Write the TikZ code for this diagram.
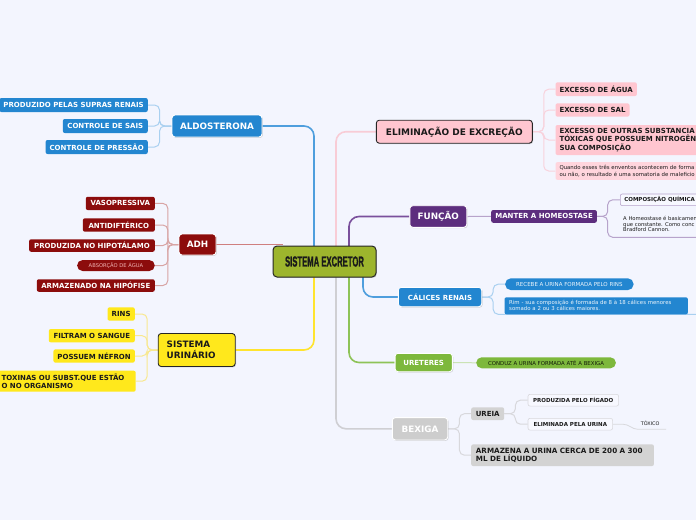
\documentclass[tikz,border=0pt]{standalone}
\usepackage{fontspec}
\setmainfont{DejaVu Sans}
\newfontfamily\titlefont[FakeBold=1.6]{Liberation Sans Bold}
\usetikzlibrary{shadows,calc}
\pgfdeclarelayer{back}
\pgfdeclarelayer{lines}
\pgfsetlayers{back,lines,main}
\definecolor{bgc}{HTML}{F3F5FE}
\definecolor{cOlive}{HTML}{9DB52D}
\definecolor{cBlue}{HTML}{2386D0}
\definecolor{cRed}{HTML}{8C0C0C}
\definecolor{cRedText}{HTML}{F0B4B4}
\definecolor{cYel}{HTML}{FFE81C}
\definecolor{cPink}{HTML}{FFC6D0}
\definecolor{cPinkL}{HTML}{FFD5DD}
\definecolor{cPur}{HTML}{5D2E7E}
\definecolor{cGreen}{HTML}{7DB83C}
\definecolor{cGray}{HTML}{CDCDCD}
\definecolor{cGrayL}{HTML}{D3D3D3}
\definecolor{cWhiteBox}{HTML}{F7F8FF}
\definecolor{lBlueM}{HTML}{4E9EDD}
\definecolor{lBlueS}{HTML}{A9D0F0}
\definecolor{lRedM}{HTML}{CF7F7F}
\definecolor{lRedS}{HTML}{D8A4A4}
\definecolor{lYelM}{HTML}{FFE42E}
\definecolor{lYelS}{HTML}{F8E890}
\definecolor{lPinkM}{HTML}{F8CCD6}
\definecolor{lPinkS}{HTML}{F8D2DC}
\definecolor{lPurM}{HTML}{7A509C}
\definecolor{lPurS}{HTML}{B7A3CB}
\definecolor{lGreenM}{HTML}{8EC358}
\definecolor{lGreenS}{HTML}{CBE3B5}
\definecolor{lGrayM}{HTML}{CFCFD3}
\definecolor{lGrayS}{HTML}{D8D8DC}
\definecolor{txtDark}{HTML}{1A1A1A}
\tikzset{
  mline/.style={line width=1.6pt, rounded corners=10pt},
  sline/.style={line width=1pt, rounded corners=5pt},
  shad/.style={drop shadow={shadow xshift=0.9pt, shadow yshift=-0.9pt, opacity=0.3}},
  topic/.style={draw=white, line width=0.9pt, rounded corners=3pt, text=white, inner sep=0pt,
    font=\fontsize{8.8}{10}\selectfont\bfseries, shad},
  topicsm/.style={topic, font=\fontsize{7}{8}\selectfont\bfseries},
  sub/.style={rounded corners=2pt, inner xsep=4pt, inner ysep=0pt,
    font=\fontsize{7}{8.7}\selectfont\bfseries},
  subw/.style={sub, text=white},
  subk/.style={sub, text=txtDark},
  tinyb/.style={rounded corners=2pt, inner xsep=4pt, inner ysep=0pt,
    font=\fontsize{5.5}{6.5}\selectfont\bfseries, text=txtDark},
  pill/.style={rounded corners=5.5pt, inner xsep=4pt, inner ysep=0pt,
    font=\fontsize{5.5}{6}\selectfont},
  note/.style={rounded corners=2pt, inner ysep=0pt, align=left,
    font=\fontsize{5.4}{5.9}\selectfont},
}
\begin{document}
\begin{tikzpicture}[x=1pt,y=-1pt]
\begin{pgfonlayer}{back}
\fill[bgc] (0,0) rectangle (696,520);
\end{pgfonlayer}
\useasboundingbox (0,0) rectangle (696,520);

% ---------------- central topic
\node[draw=black!85, fill=cOlive, line width=1pt, rounded corners=4pt, minimum width=103pt,
  minimum height=31pt, inner sep=0pt, text=txtDark,
  font=\titlefont\fontsize{14.5}{14.5}\selectfont, shad] (cen) at (324.5,261.5)
  {\scalebox{0.53}[1]{SISTEMA EXCRETOR}};

% ---------------- ALDOSTERONA
\node[topic, fill=cBlue, minimum width=90pt, minimum height=22pt] (ald) at (217,126) {ALDOSTERONA};
\node[subw, fill=cBlue, anchor=east, minimum height=14pt] (a1) at (148,105) {PRODUZIDO PELAS SUPRAS RENAIS};
\node[subw, fill=cBlue, anchor=east, minimum height=14pt, minimum width=85pt] (a2) at (148,126) {CONTROLE DE SAIS};
\node[subw, fill=cBlue, anchor=east, minimum height=14pt, minimum width=102pt] (a3) at (148,147) {CONTROLE DE PRESSÃO};
\coordinate (aldS) at ($(ald.west)+(-12,0)$);

% ---------------- ADH
\node[topic, fill=cRed, minimum width=37pt, minimum height=21pt] (adh) at (197.5,244.5) {ADH};
\node[subw, fill=cRed, anchor=east, minimum height=13.3pt, minimum width=69pt] (d1) at (155,203.4) {VASOPRESSIVA};
\node[subw, fill=cRed, anchor=east, minimum height=13.3pt, minimum width=72pt] (d2) at (155,225) {ANTIDIFTÉRICO};
\node[subw, fill=cRed, anchor=east, minimum height=12.5pt, minimum width=125.7pt] (d3) at (155,245.5) {PRODUZIDA NO HIPOTÁLAMO};
\node[pill, fill=cRed, text=cRedText, anchor=east, minimum height=11pt, minimum width=77.7pt,
  font=\fontsize{5.2}{6}\selectfont] (d4) at (155,265.5) {ABSORÇÃO DE ÁGUA};
\node[subw, fill=cRed, anchor=east, minimum height=12.5pt, minimum width=118pt] (d5) at (155,285.5) {ARMAZENADO NA HIPÓFISE};
\coordinate (adhS) at ($(adh.west)+(-10.7,0)$);

% ---------------- SISTEMA URINARIO
\node[topic, draw=black!85, fill=cYel, text=txtDark, minimum width=77pt, minimum height=33pt,
  text width=60pt, align=left, inner xsep=8.3pt, font=\fontsize{8.8}{10.7}\selectfont\bfseries] (uri) at (196.7,350) {SISTEMA\\URINÁRIO};
\node[subk, fill=cYel, anchor=east, minimum height=13.3pt, minimum width=27.3pt] (y1) at (135,314) {RINS};
\node[subk, fill=cYel, anchor=east, minimum height=13.3pt, minimum width=86pt] (y2) at (135,335.7) {FILTRAM O SANGUE};
\node[subk, fill=cYel, anchor=east, minimum height=13.3pt, minimum width=80.7pt] (y3) at (135,356) {POSSUEM NÉFRON};
\node[subk, fill=cYel, anchor=west, minimum height=21pt, text width=130pt, align=left,
  font=\fontsize{7}{8.3}\selectfont\bfseries] (y4) at (-2.5,381.2) {TOXINAS OU SUBST.QUE ESTÃO\\O NO ORGANISMO};
\coordinate (uriS) at ($(uri.west)+(-10.6,0)$);

% ---------------- ELIMINACAO
\node[topic, draw=black!85, fill=cPink, text=txtDark, minimum width=156pt, minimum height=23pt,
  font=\fontsize{9}{10}\selectfont\bfseries] (eli) at (454.3,131.7) {ELIMINAÇÃO DE EXCREÇÃO};
\node[subk, fill=cPink, anchor=west, minimum height=13.7pt, minimum width=81.4pt] (p1) at (555.3,89.2) {EXCESSO DE ÁGUA};
\node[subk, fill=cPink, anchor=west, minimum height=13.3pt, minimum width=74pt] (p2) at (555.3,110) {EXCESSO DE SAL};
\node[subk, fill=cPink, anchor=west, minimum height=30pt, text width=150pt, align=left] (p3) at (555.3,140)
  {EXCESSO DE OUTRAS SUBSTANCIA\\TÓXICAS QUE POSSUEM NITROGÊN\\SUA COMPOSIÇÃO};
\node[note, fill=cPinkL, text=txtDark, anchor=west, minimum height=17.7pt, text width=200pt, inner xsep=4pt,
  font=\fontsize{5.4}{7}\selectfont] (p4) at (555.3,171)
  {Quando esses três enventos acontecem de forma\\ou não, o resultado é uma somatoria de maleficio};
\coordinate (eliS) at ($(eli.east)+(11,0)$);

% ---------------- FUNCAO
\node[topic, fill=cPur, minimum width=57pt, minimum height=21.6pt] (fun) at (438.3,216.5) {FUNÇÃO};
\node[subw, fill=cPur, anchor=west, minimum height=12.7pt, minimum width=105.7pt] (man) at (491,216.4) {MANTER A HOMEOSTASE};
\node[tinyb, fill=cWhiteBox, draw=lPurS, line width=0.6pt, anchor=west, minimum height=11.7pt, minimum width=90pt,
  text width=82pt, align=left] (comp) at (620,199.8) {COMPOSIÇÃO QUÍMICA};
\node[note, text=txtDark, anchor=west, inner xsep=0pt, font=\fontsize{5.3}{5.4}\selectfont] (hom) at (623,224)
  {A Homeostase é basicamen\\que constante. Como conc\\Bradford Cannon.};
\coordinate (manS) at ($(man.east)+(10.6,0)$);
\coordinate (homEnd) at (700,237.3);

% ---------------- CALICES RENAIS
\node[topicsm, fill=cBlue, minimum width=83.4pt, minimum height=19.4pt] (cal) at (440,297) {CÁLICES RENAIS};
\node[pill, fill=cBlue, text=white!92!cBlue, anchor=west, minimum height=11.7pt, minimum width=128.3pt] (rec) at (505,284.2) {RECEBE A URINA FORMADA PELO RINS};
\node[note, fill=cBlue, text=white!92!cBlue, anchor=west, minimum height=17pt, text width=174pt, inner xsep=4.7pt] (rim) at (504.3,305.8)
  {Rim - sua composição é formada de 8 à 18 cálices menores\\somado a 2 ou 3 cálices maiores.};
\coordinate (calS) at ($(cal.east)+(11,0)$);
\coordinate (rimEnd) at (700,314.3);

% ---------------- URETERES
\node[topicsm, fill=cGreen, minimum width=57.3pt, minimum height=18.4pt] (ure) at (423.7,362.5) {URETERES};
\node[pill, fill=cGreen, text=black!85!cGreen, anchor=west, minimum height=11pt, minimum width=139.7pt,
  font=\fontsize{5.4}{6}\selectfont] (con) at (476,362.8) {CONDUZ A URINA FORMADA ATÉ A BEXIGA};

% ---------------- BEXIGA
\node[topic, fill=cGray, minimum width=55.4pt, minimum height=22.3pt] (bex) at (420,428.8) {BEXIGA};
\node[subk, fill=cGrayL, anchor=west, minimum height=12.7pt, minimum width=33pt] (urei) at (471,413.7) {UREIA};
\node[subk, fill=cGrayL, anchor=west, minimum height=21.7pt, text width=173.3pt, inner xsep=4.7pt, align=left,
  font=\fontsize{7.2}{8.3}\selectfont\bfseries] (arm) at (471,455.2) {ARMAZENA A URINA CERCA DE 200 A 300\\ML DE LÍQUIDO};
\node[tinyb, fill=cWhiteBox, draw=lGrayS, line width=0.6pt, anchor=west, minimum height=11.7pt, minimum width=90.6pt] (pf) at (527.7,400.2) {PRODUZIDA PELO FÍGADO};
\node[tinyb, fill=cWhiteBox, draw=lGrayS, line width=0.6pt, anchor=west, minimum height=11.7pt, minimum width=84.6pt] (elu) at (527.7,424.2) {ELIMINADA PELA URINA};
\node[inner sep=0pt, text=txtDark, font=\fontsize{4.9}{5}\selectfont] (tox) at (650.2,423.3) {TÓXICO};
\coordinate (bexS) at ($(bex.east)+(11.3,0)$);
\coordinate (ureiS) at ($(urei.east)+(11,0)$);
\coordinate (toxL) at (638,429.3);
\coordinate (toxR) at (666,429.3);

% ---------------- connectors
\begin{pgfonlayer}{lines}
\draw[mline, lBlueM] ([xshift=-10.5pt]cen.center) |- (ald.east);
\draw[mline, lRedM] (adh.east) -- ($(adh.east -| cen.west)+(10,0)$);
\draw[mline, lYelM] ([xshift=-10.5pt]cen.center) |- (uri.east);
\draw[mline, lPinkM] ([xshift=11.5pt]cen.center) |- (eli.west);
\draw[mline, lPurM] ([xshift=24.5pt]cen.center) |- (fun.west);
\draw[mline, lGrayM] ([xshift=11.5pt]cen.center) |- (bex.west);
\draw[mline, lGreenM] ([xshift=24.5pt]cen.center) |- (ure.west);
\draw[mline, lBlueM] ([xshift=38.5pt]cen.center) |- (cal.west);
\foreach \c in {a1,a2,a3} \draw[sline, lBlueS] (ald.west) -- (aldS) |- (\c.east);
\foreach \c in {d1,d2,d3,d4,d5} \draw[sline, lRedS] (adh.west) -- (adhS) |- (\c.east);
\foreach \c in {y1,y2,y3,y4} \draw[sline, lYelS] (uri.west) -- (uriS) |- (\c.east);
\foreach \c in {p1,p2,p3,p4} \draw[sline, lPinkS] (eli.east) -- (eliS) |- (\c.west);
\draw[sline, lPurS] (fun.east) -- (man.west);
\draw[sline, lPurS] (man.east) -- (manS) |- (comp.west);
\draw[sline, lPurS] (man.east) -- (manS) |- (homEnd);
\draw[sline, lBlueS] (cal.east) -- (calS) |- (rec.west);
\draw[sline, lBlueS] (cal.east) -- (calS) |- (rimEnd);
\draw[sline, lGreenS] (ure.east) -- (con.west);
\draw[sline, lGrayS] (bex.east) -- (bexS) |- (urei.west);
\draw[sline, lGrayS] (bex.east) -- (bexS) |- (arm.west);
\draw[sline, lGrayS] (urei.east) -- (ureiS) |- (pf.west);
\draw[sline, lGrayS] (urei.east) -- (ureiS) |- (elu.west);
\draw[line width=0.8pt, lGrayS] (elu.east) -- ($(elu.east)+(10,0)$) to[out=0,in=180] (toxL) -- (toxR);
\end{pgfonlayer}
\end{tikzpicture}
\end{document}
